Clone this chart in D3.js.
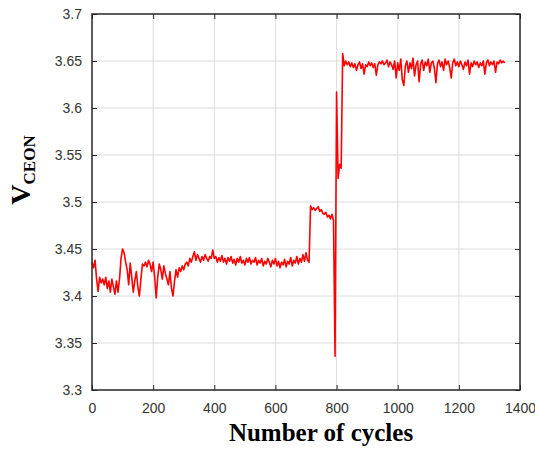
<!DOCTYPE html>
<html>
<head>
<meta charset="utf-8">
<script src="https://cdn.jsdelivr.net/npm/d3@7"></script>
<style>
  body { margin: 0; background: #fff; }
  svg { display: block; }
</style>
</head>
<body>
<svg id="chart" width="535" height="449"></svg>
<script>
// cycle grid, one reading every 5 cycles
const cycles = d3.range(0, 1351, 5);

// V_CEON, 20 readings per 100 cycles
const vceon = [
  3.436, 3.430, 3.438, 3.418, 3.405, 3.420, 3.414, 3.418, 3.412, 3.420, 3.408, 3.416, 3.404, 3.418, 3.410, 3.402, 3.416, 3.404, 3.418, 3.440,
  3.450, 3.446, 3.436, 3.428, 3.412, 3.435, 3.420, 3.404, 3.416, 3.426, 3.410, 3.400, 3.418, 3.434, 3.432, 3.436, 3.431, 3.438, 3.434, 3.426,
  3.436, 3.420, 3.398, 3.420, 3.434, 3.428, 3.418, 3.432, 3.424, 3.418, 3.412, 3.426, 3.408, 3.400, 3.416, 3.428, 3.420, 3.430, 3.426, 3.432,
  3.428, 3.434, 3.436, 3.432, 3.440, 3.436, 3.442, 3.447, 3.438, 3.444, 3.440, 3.436, 3.442, 3.438, 3.444, 3.440, 3.437, 3.442, 3.440, 3.449,
  3.440, 3.442, 3.436, 3.441, 3.437, 3.443, 3.436, 3.440, 3.434, 3.441, 3.437, 3.442, 3.435, 3.439, 3.433, 3.440, 3.436, 3.442, 3.435, 3.438,
  3.433, 3.440, 3.436, 3.441, 3.434, 3.438, 3.436, 3.441, 3.433, 3.438, 3.435, 3.440, 3.432, 3.437, 3.434, 3.440, 3.436, 3.431, 3.438, 3.434,
  3.440, 3.432, 3.437, 3.430, 3.436, 3.433, 3.439, 3.431, 3.437, 3.434, 3.441, 3.432, 3.438, 3.435, 3.442, 3.434, 3.440, 3.436, 3.444, 3.437,
  3.446, 3.438, 3.436, 3.496, 3.492, 3.494, 3.491, 3.493, 3.495, 3.490, 3.492, 3.488, 3.487, 3.489, 3.484, 3.486, 3.482, 3.487, 3.480, 3.336,
  3.617, 3.525, 3.540, 3.536, 3.658, 3.645, 3.650, 3.646, 3.649, 3.644, 3.648, 3.643, 3.647, 3.640, 3.646, 3.649, 3.642, 3.647, 3.636, 3.646,
  3.644, 3.649, 3.645, 3.648, 3.643, 3.647, 3.635, 3.646, 3.649, 3.647, 3.650, 3.646, 3.648, 3.651, 3.644, 3.649, 3.646, 3.641, 3.650, 3.632,
  3.648, 3.640, 3.652, 3.630, 3.624, 3.645, 3.650, 3.638, 3.648, 3.642, 3.653, 3.634, 3.646, 3.650, 3.628, 3.647, 3.651, 3.640, 3.649, 3.645,
  3.652, 3.638, 3.648, 3.650, 3.642, 3.627, 3.647, 3.651, 3.644, 3.649, 3.640, 3.652, 3.646, 3.650, 3.643, 3.632, 3.648, 3.652, 3.645, 3.649,
  3.644, 3.650, 3.646, 3.641, 3.649, 3.645, 3.651, 3.636, 3.648, 3.644, 3.650, 3.646, 3.649, 3.643, 3.648, 3.645, 3.650, 3.636, 3.648, 3.651,
  3.645, 3.649, 3.646, 3.650, 3.638, 3.649, 3.647, 3.651, 3.648, 3.650, 3.648
];

const xTicks = [0, 200, 400, 600, 800, 1000, 1200, 1400];
const yTicks = [3.3, 3.35, 3.4, 3.45, 3.5, 3.55, 3.6, 3.65, 3.7];

(() => {
  let svg, margin, width, height, x, y, g, line, axisColor, tickLen, points, yTitle;

  svg = d3.select('#chart');
  margin = { top: 14, right: 15, bottom: 59, left: 92 };
  width = 535 - margin.left - margin.right;
  height = 449 - margin.top - margin.bottom;
  axisColor = '#262626';
  tickLen = 5;

  x = d3.scaleLinear().domain([0, 1400]).range([0, width]);
  y = d3.scaleLinear().domain([3.3, 3.7]).range([height, 0]);

  g = svg.append('g').attr('transform', `translate(${margin.left},${margin.top})`);

  // grid
  g.append('g')
    .selectAll('line')
    .data(xTicks.slice(1, -1))
    .join('line')
    .attr('x1', d => x(d)).attr('x2', d => x(d))
    .attr('y1', 0).attr('y2', height)
    .attr('stroke', '#dcdcdc').attr('stroke-width', 1);
  g.append('g')
    .selectAll('line')
    .data(yTicks.slice(1, -1))
    .join('line')
    .attr('x1', 0).attr('x2', width)
    .attr('y1', d => y(d)).attr('y2', d => y(d))
    .attr('stroke', '#dcdcdc').attr('stroke-width', 1);

  // data line
  points = cycles.map((c, i) => [c, vceon[i]]);
  line = d3.line().x(d => x(d[0])).y(d => y(d[1]));
  g.append('path')
    .datum(points)
    .attr('d', line)
    .attr('fill', 'none')
    .attr('stroke', '#ff0000')
    .attr('stroke-width', 1.6)
    .attr('stroke-linejoin', 'round');

  // axes, ticks pointing inward on all four sides
  const styleAxis = sel => {
    sel.select('.domain').remove();
    sel.selectAll('.tick line').attr('stroke', axisColor).attr('stroke-width', 1);
    sel.selectAll('.tick text')
      .attr('fill', '#333')
      .style('font-family', '"Liberation Sans", Arial, sans-serif')
      .style('font-size', '14px');
  };

  g.append('g')
    .attr('transform', `translate(0,${height})`)
    .call(d3.axisBottom(x).tickValues(xTicks).tickFormat(d3.format('d'))
      .tickSizeInner(-tickLen).tickSizeOuter(0).tickPadding(13))
    .call(styleAxis);
  g.append('g')
    .call(d3.axisTop(x).tickValues(xTicks).tickFormat('')
      .tickSizeInner(-tickLen).tickSizeOuter(0))
    .call(styleAxis);
  g.append('g')
    .call(d3.axisLeft(y).tickValues(yTicks).tickFormat(d => d3.format('')(+d.toFixed(2)))
      .tickSizeInner(-tickLen).tickSizeOuter(0).tickPadding(10))
    .call(styleAxis);
  g.append('g')
    .attr('transform', `translate(${width},0)`)
    .call(d3.axisRight(y).tickValues(yTicks).tickFormat('')
      .tickSizeInner(-tickLen).tickSizeOuter(0))
    .call(styleAxis);

  // box
  g.append('rect')
    .attr('width', width).attr('height', height)
    .attr('fill', 'none')
    .attr('stroke', axisColor)
    .attr('stroke-width', 1.5);

  // axis titles
  svg.append('text')
    .attr('x', 321)
    .attr('y', 441)
    .attr('text-anchor', 'middle')
    .style('font-family', '"Liberation Serif", "Times New Roman", serif')
    .style('font-weight', 'bold')
    .style('font-size', '25px')
    .text('Number of cycles');

  yTitle = svg.append('text')
    .attr('transform', 'translate(30,170) rotate(-90)')
    .attr('text-anchor', 'middle')
    .style('font-family', '"Liberation Serif", "Times New Roman", serif')
    .style('font-weight', 'bold')
    .style('font-size', '28px');
  yTitle.append('tspan').text('V');
  yTitle.append('tspan').attr('dy', 5).style('font-size', '17px').text('CEON');
})();
</script>
</body>
</html>
